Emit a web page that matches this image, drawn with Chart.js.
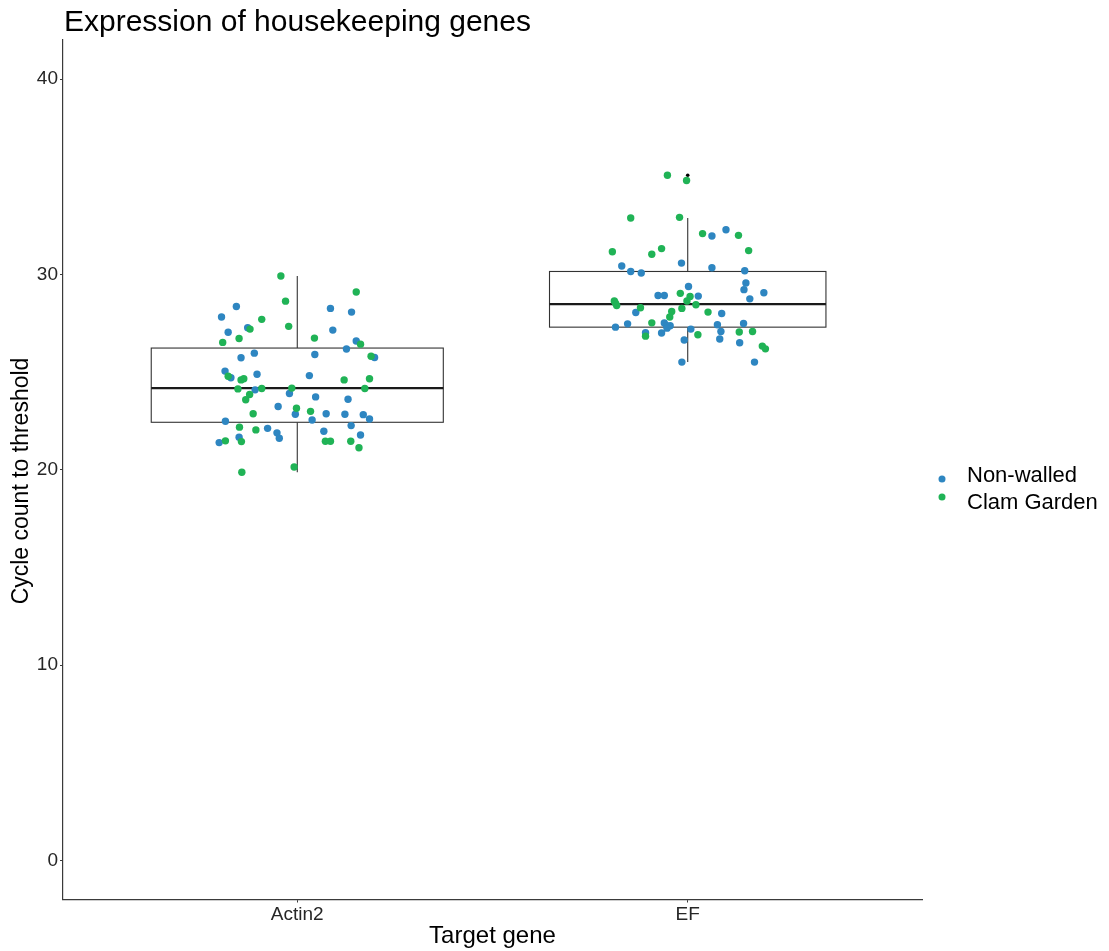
<!DOCTYPE html>
<html>
<head>
<meta charset="utf-8">
<title>Expression of housekeeping genes</title>
<script src="https://cdn.jsdelivr.net/npm/chart.js@4.4.1/dist/chart.umd.min.js"></script>
<style>
  html, body { margin: 0; padding: 0; background: #ffffff; }
  #chart { display: block; }
</style>
</head>
<body>
<canvas id="chart" width="1109" height="951"></canvas>
<script>
// Categories and tick labels
const genes = ['Actin2', 'EF'];
const genePositions = [1, 2];
const yTicks = [0, 10, 20, 30, 40];

// Box summaries per gene (Ct values)
const boxQ1 = [22.43, 27.30];
const boxMedian = [24.18, 28.48];
const boxQ3 = [26.23, 30.15];
const whiskerLow = [19.87, 25.51];
const whiskerHigh = [29.92, 32.89];

// Outliers flagged by the boxplot (EF only)
const efOutliers = [35.08, 34.81];

// Jittered samples: [x position, Ct]
const actin2NonWalled = [
  [0.844, 28.36], [1.085, 28.26], [1.139, 28.07], [0.806, 27.82], [0.873, 27.27], [0.823, 27.04],
  [1.091, 27.15], [1.151, 26.59], [1.126, 26.18], [0.890, 25.97], [0.856, 25.73], [1.045, 25.90],
  [1.198, 25.75], [0.815, 25.05], [0.830, 24.71], [0.897, 24.89], [1.031, 24.82], [0.892, 24.09],
  [0.980, 23.90], [1.047, 23.73], [1.130, 23.61], [0.951, 23.24], [0.995, 22.84], [1.074, 22.87],
  [1.122, 22.84], [1.169, 22.82], [1.185, 22.60], [1.038, 22.55], [0.816, 22.48], [1.138, 22.26],
  [0.924, 22.12], [0.948, 21.89], [1.068, 21.97], [1.162, 21.78], [0.851, 21.66], [0.954, 21.61],
  [0.800, 21.39]
];
const actin2ClamGarden = [
  [0.958, 29.92], [1.151, 29.10], [0.970, 28.63], [0.909, 27.70], [0.879, 27.20], [0.978, 27.34],
  [0.851, 26.72], [1.044, 26.74], [0.809, 26.52], [1.162, 26.43], [1.189, 25.81], [0.823, 24.79],
  [0.856, 24.60], [0.863, 24.66], [1.120, 24.60], [1.185, 24.66], [0.848, 24.14], [0.909, 24.16],
  [0.986, 24.18], [1.173, 24.16], [0.878, 23.85], [0.868, 23.58], [0.998, 23.15], [1.034, 22.99],
  [0.887, 22.87], [0.852, 22.18], [0.894, 22.04], [0.816, 21.48], [0.857, 21.44], [1.072, 21.46],
  [1.085, 21.46], [1.137, 21.46], [1.158, 21.13], [0.858, 19.87], [0.992, 20.14]
];
const efNonWalled = [
  [2.098, 32.29], [2.062, 31.97], [1.831, 30.43], [1.854, 30.15], [1.881, 30.07], [1.984, 30.58],
  [2.062, 30.34], [2.146, 30.19], [2.149, 29.56], [2.144, 29.22], [2.195, 29.06], [2.159, 28.75],
  [2.002, 29.38], [1.924, 28.92], [1.940, 28.92], [2.027, 28.89], [1.867, 28.05], [2.087, 28.00],
  [1.846, 27.47], [1.940, 27.51], [1.946, 27.38], [1.955, 27.37], [1.815, 27.30], [2.076, 27.42],
  [2.143, 27.49], [1.947, 27.25], [2.008, 27.20], [2.085, 27.08], [1.892, 27.01], [1.933, 27.00],
  [1.991, 26.64], [2.082, 26.69], [2.133, 26.50], [1.985, 25.51], [2.171, 25.51]
];
const efClamGarden = [
  [1.948, 35.08], [1.997, 34.81], [1.854, 32.89], [1.979, 32.92], [2.038, 32.09], [2.130, 32.00],
  [1.807, 31.16], [1.908, 31.03], [1.933, 31.32], [2.156, 31.22], [1.981, 29.03], [2.006, 28.87],
  [1.998, 28.64], [2.021, 28.45], [1.812, 28.64], [1.815, 28.53], [1.818, 28.41], [1.879, 28.29],
  [1.985, 28.26], [1.959, 28.10], [2.052, 28.07], [1.954, 27.82], [1.908, 27.52], [2.132, 27.05],
  [2.166, 27.08], [1.892, 26.84], [2.026, 26.91], [2.191, 26.33], [2.199, 26.19]
];

// Styling
const FONT = "'Liberation Sans', Arial, sans-serif";
const BLUE = '#2e86c1';
const GREEN = '#20b356';
const AXIS = '#3a3a3a';
const TICK_TEXT = '#262626';
const boxHalfWidth = [0.374, 0.354];

const toPoints = rows => rows.map(([x, y]) => ({ x, y }));

// Boxes and whiskers, drawn under the points
const boxPlugin = {
  id: 'boxes',
  beforeDatasetsDraw(chart) {
    const { ctx, scales: { x, y } } = chart;
    ctx.save();
    ctx.strokeStyle = '#333333';
    genes.forEach((g, i) => {
      const cx = x.getPixelForValue(genePositions[i]);
      const left = x.getPixelForValue(genePositions[i] - boxHalfWidth[i]);
      const right = x.getPixelForValue(genePositions[i] + boxHalfWidth[i]);
      const top = y.getPixelForValue(boxQ3[i]);
      const bottom = y.getPixelForValue(boxQ1[i]);
      ctx.lineWidth = 1.1;
      ctx.beginPath();
      ctx.moveTo(cx, y.getPixelForValue(whiskerHigh[i]));
      ctx.lineTo(cx, top);
      ctx.moveTo(cx, bottom);
      ctx.lineTo(cx, y.getPixelForValue(whiskerLow[i]));
      ctx.stroke();
      ctx.fillStyle = '#ffffff';
      ctx.fillRect(left, top, right - left, bottom - top);
      ctx.strokeRect(left, top, right - left, bottom - top);
      ctx.lineWidth = 2.2;
      ctx.strokeStyle = '#1a1a1a';
      const my = y.getPixelForValue(boxMedian[i]);
      ctx.beginPath();
      ctx.moveTo(left, my);
      ctx.lineTo(right, my);
      ctx.stroke();
      ctx.strokeStyle = '#333333';
    });
    ctx.restore();
  }
};

// Title, y-axis title and legend
const annotatePlugin = {
  id: 'annotate',
  afterDraw(chart) {
    const { ctx } = chart;
    ctx.save();
    ctx.fillStyle = '#000000';
    ctx.font = '30px ' + FONT;
    ctx.textBaseline = 'alphabetic';
    ctx.textAlign = 'left';
    ctx.fillText('Expression of housekeeping genes', 64, 31);

    ctx.save();
    ctx.translate(22, 481);
    ctx.rotate(-Math.PI / 2);
    ctx.font = '23px ' + FONT;
    ctx.textAlign = 'center';
    ctx.textBaseline = 'middle';
    ctx.fillText('Cycle count to threshold', 0, 0);
    ctx.restore();

    const items = chart.data.datasets.filter(d => d.legend);
    ctx.font = '22px ' + FONT;
    const dotY = [479, 497];
    const textY = [482, 509];
    items.sort((a, b) => a.legend - b.legend).forEach((d, i) => {
      ctx.fillStyle = d.backgroundColor;
      ctx.beginPath();
      ctx.arc(942, dotY[i], 3.5, 0, Math.PI * 2);
      ctx.fill();
      ctx.fillStyle = '#000000';
      ctx.fillText(d.label, 967, textY[i]);
    });
    ctx.restore();
  }
};

new Chart(document.getElementById('chart'), {
  type: 'scatter',
  data: {
    datasets: [
      {
        label: 'Clam Garden',
        legend: 2,
        data: toPoints(actin2ClamGarden.concat(efClamGarden)),
        backgroundColor: GREEN,
        pointRadius: 3.7,
        borderWidth: 0
      },
      {
        label: 'Non-walled',
        legend: 1,
        data: toPoints(actin2NonWalled.concat(efNonWalled)),
        backgroundColor: BLUE,
        pointRadius: 3.7,
        borderWidth: 0
      },
      {
        label: 'outliers',
        data: efOutliers.map(v => ({ x: genePositions[1], y: v })),
        backgroundColor: '#000000',
        pointRadius: 1.8,
        borderWidth: 0
      }
    ]
  },
  options: {
    responsive: false,
    animation: false,
    devicePixelRatio: 1,
    layout: { padding: { left: 0, top: 40, right: 187, bottom: 0 } },
    plugins: {
      legend: { display: false },
      tooltip: { enabled: false },
      title: { display: false }
    },
    scales: {
      x: {
        type: 'linear',
        min: 0.4,
        max: 2.6,
        afterBuildTicks: scale => { scale.ticks = genePositions.map(v => ({ value: v })); },
        afterFit: scale => { scale.height = 51.5; },
        ticks: {
          callback: v => genes[genePositions.indexOf(v)],
          font: { family: FONT, size: 19 },
          color: TICK_TEXT,
          padding: 1,
          maxRotation: 0
        },
        grid: { display: true, drawOnChartArea: false, drawTicks: true, tickLength: 3, color: AXIS },
        border: { display: true, color: AXIS, width: 1.2 },
        title: {
          display: true,
          text: 'Target gene',
          font: { family: FONT, size: 24 },
          color: '#000000',
          padding: { top: 0, bottom: 0 }
        }
      },
      y: {
        min: -2,
        max: 42,
        afterBuildTicks: scale => { scale.ticks = yTicks.map(v => ({ value: v })); },
        afterFit: scale => { scale.width = 63; },
        ticks: {
          font: { family: FONT, size: 19 },
          color: TICK_TEXT,
          padding: 2
        },
        grid: { display: true, drawOnChartArea: false, drawTicks: true, tickLength: 3, color: AXIS },
        border: { display: true, color: AXIS, width: 1.2 },
        title: { display: false }
      }
    }
  },
  plugins: [boxPlugin, annotatePlugin]
});
</script>
</body>
</html>
